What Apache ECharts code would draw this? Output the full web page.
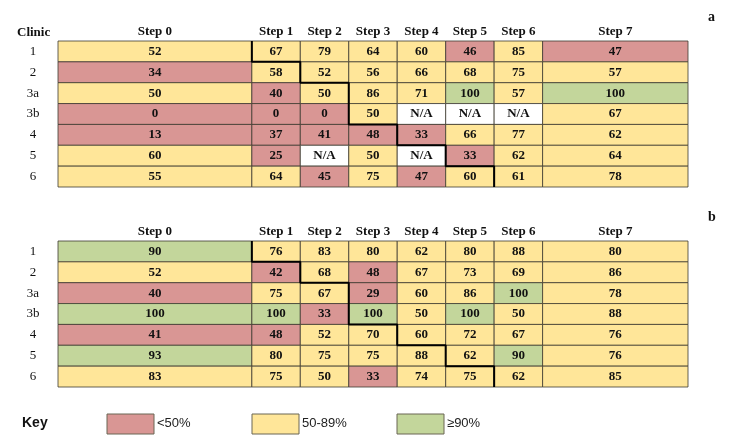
<!DOCTYPE html>
<html>
<head>
<meta charset="utf-8">
<script src="https://cdn.jsdelivr.net/npm/echarts@6.0.0/dist/echarts.min.js"></script>
<style>
  html, body { margin: 0; padding: 0; background: #fff; }
  #chart { width: 734px; height: 447px; }
</style>
</head>
<body>
<div id="chart"></div>
<script>
// ===== data =====
const steps = ['Step 0', 'Step 1', 'Step 2', 'Step 3', 'Step 4', 'Step 5', 'Step 6', 'Step 7'];
const clinics = ['1', '2', '3a', '3b', '4', '5', '6'];
// how many unit widths each step column spans
const stepSpan = [4, 1, 1, 1, 1, 1, 1, 3];
// null = N/A
const valuesA = [
  [52, 67, 79, 64, 60, 46, 85, 47],
  [34, 58, 52, 56, 66, 68, 75, 57],
  [50, 40, 50, 86, 71, 100, 57, 100],
  [0, 0, 0, 50, null, null, null, 67],
  [13, 37, 41, 48, 33, 66, 77, 62],
  [60, 25, null, 50, null, 33, 62, 64],
  [55, 64, 45, 75, 47, 60, 61, 78],
];
const valuesB = [
  [90, 76, 83, 80, 62, 80, 88, 80],
  [52, 42, 68, 48, 67, 73, 69, 86],
  [40, 75, 67, 29, 60, 86, 100, 78],
  [100, 100, 33, 100, 50, 100, 50, 88],
  [41, 48, 52, 70, 60, 72, 67, 76],
  [93, 80, 75, 75, 88, 62, 90, 76],
  [83, 75, 50, 33, 74, 75, 62, 85],
];
// step column at which the thick staircase line sits (left side), per clinic row
const stairStep = [1, 2, 3, 3, 4, 5, 6];
const keyLabels = ['<50%', '50-89%', '≥90%'];

// ===== helpers =====
const RED = '#d99694', YELLOW = '#ffe699', GREEN = '#c3d69b';
function colorFor(v) {
  if (v == null) return '#ffffff';
  if (v < 50) return RED;
  if (v < 90) return YELLOW;
  return GREEN;
}
const edges = [0];
stepSpan.forEach(s => edges.push(edges[edges.length - 1] + s));
const total = edges[edges.length - 1];
const centers = steps.map((_, i) => (edges[i] + edges[i + 1]) / 2);
const rowCenters = clinics.map((_, i) => i + 0.5);

function cellData(values) {
  const out = [];
  values.forEach((row, r) => row.forEach((v, c) => out.push([c, r, v == null ? '-' : v])));
  return out;
}
function stairData() {
  const pts = [];
  stairStep.forEach((s, r) => {
    pts.push([edges[s], r]);
    pts.push([edges[s], r + 1]);
  });
  return pts;
}

const SERIF = '"Liberation Serif", "Times New Roman", serif';
const SANS = '"Liberation Sans", Arial, sans-serif';

function renderCell(params, api) {
  const c = api.value(0), r = api.value(1);
  const raw = api.value(2);
  const v = (raw === '-' || raw == null || isNaN(raw)) ? null : raw;
  const p0 = api.coord([edges[c], r]);
  const p1 = api.coord([edges[c + 1], r + 1]);
  return {
    type: 'rect',
    shape: { x: p0[0], y: p0[1], width: p1[0] - p0[0], height: p1[1] - p0[1] },
    style: {
      fill: colorFor(v), stroke: '#3d3a30', lineWidth: 0.8,
    },
    textContent: {
      style: {
        text: v == null ? 'N/A' : String(v),
        font: 'bold 13px ' + SERIF, fill: '#111',
      },
    },
    textConfig: { position: 'inside' },
  };
}

const tops = [41, 241];
const grids = tops.map(t => ({ left: 58, top: t, width: 630, height: 146 }));
const xAxes = tops.map((_, i) => ({
  type: 'value', gridIndex: i, min: 0, max: total, position: 'top',
  axisLine: { show: false }, axisTick: { show: false }, splitLine: { show: false },
  axisLabel: {
    customValues: centers, margin: 3,
    formatter: v => steps[centers.findIndex(c => Math.abs(c - v) < 1e-6)] || '',
    color: '#111', fontWeight: 'bold', fontFamily: SERIF, fontSize: 13,
  },
}));
const yAxes = tops.map((_, i) => ({
  type: 'value', gridIndex: i, min: 0, max: clinics.length, inverse: true,
  axisLine: { show: false }, axisTick: { show: false }, splitLine: { show: false },
  axisLabel: {
    customValues: rowCenters, margin: 25, align: 'center',
    formatter: v => clinics[rowCenters.findIndex(c => Math.abs(c - v) < 1e-6)] || '',
    fontFamily: SERIF, fontSize: 13, color: '#111',
  },
}));

const series = [];
[valuesA, valuesB].forEach((vals, i) => {
  series.push({
    type: 'custom', xAxisIndex: i, yAxisIndex: i,
    renderItem: renderCell, data: cellData(vals), silent: true,
    encode: { x: 0, y: 1 },
  });
  series.push({
    type: 'line', xAxisIndex: i, yAxisIndex: i, data: stairData(),
    showSymbol: false, silent: true, z: 5,
    lineStyle: { color: '#000', width: 2 },
  });
});

const keyColors = [RED, YELLOW, GREEN];
const keyX = [107, 252, 397];
const graphic = [
  { type: 'text', left: 17, top: 26, style: { text: 'Clinic', font: 'bold 13px ' + SERIF, fill: '#111' } },
  { type: 'text', left: 708, top: 10, style: { text: 'a', font: 'bold 14px ' + SERIF, fill: '#111' } },
  { type: 'text', left: 708, top: 210, style: { text: 'b', font: 'bold 14px ' + SERIF, fill: '#111' } },
  { type: 'text', left: 22, top: 416, style: { text: 'Key', font: 'bold 14px ' + SANS, fill: '#111' } },
];
keyLabels.forEach((t, i) => {
  graphic.push({
    type: 'rect', shape: { x: keyX[i], y: 414, width: 47, height: 20 },
    style: { fill: keyColors[i], stroke: '#6b6655', lineWidth: 1 },
  });
  graphic.push({
    type: 'text', x: keyX[i] + 50, y: 417,
    style: { text: t, font: '13px ' + SANS, fill: '#222' },
  });
});

const chart = echarts.init(document.getElementById('chart'));
chart.setOption({
  animation: false,
  backgroundColor: '#fff',
  grid: grids, xAxis: xAxes, yAxis: yAxes,
  series, graphic,
});
</script>
</body>
</html>
